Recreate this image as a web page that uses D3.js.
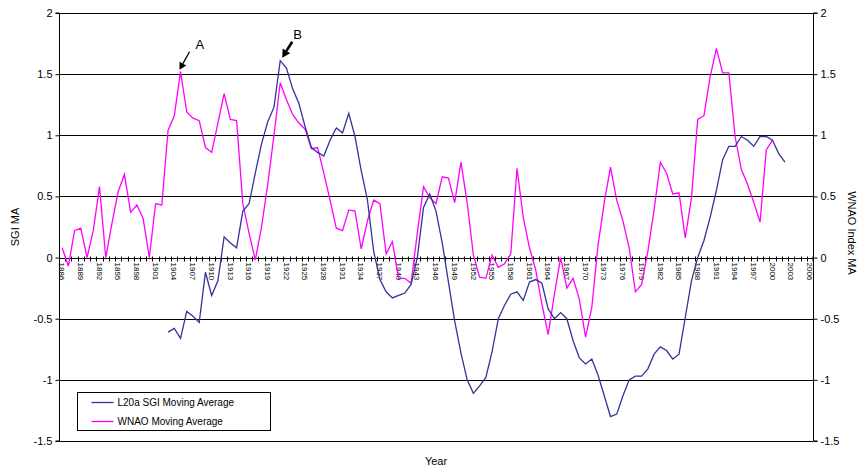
<!DOCTYPE html>
<html>
<head>
<meta charset="utf-8">
<script src="https://cdn.jsdelivr.net/npm/d3@7"></script>
<style>
  body { margin: 0; background: #fff; }
  svg { display: block; font-family: "Liberation Sans", Arial, sans-serif; }
</style>
</head>
<body>
<div id="chart"></div>
<script>
// years on the category axis
const firstYear = 1886;
const lastYear = 2006;
const years = d3.range(firstYear, lastYear + 1);

// WNAO index moving average, 1886..2000
const wnaoStart = 1886;
const wnaoValues = [
  0.08, -0.07, 0.22, 0.24, 0.0, 0.22, 0.58, 0.0, 0.28, 0.54,
  0.68, 0.37, 0.43, 0.32, 0.0, 0.44, 0.43, 1.04, 1.16, 1.52,
  1.19, 1.14, 1.12, 0.90, 0.86, 1.1, 1.34, 1.13, 1.12, 0.44,
  0.2, -0.02, 0.25, 0.6, 1.0, 1.43, 1.29, 1.17, 1.1, 1.05,
  0.89, 0.90, 0.69, 0.47, 0.24, 0.22, 0.39, 0.38, 0.07, 0.3,
  0.47, 0.44, 0.03, 0.13, -0.17, -0.17, -0.21, 0.2, 0.58, 0.49,
  0.44, 0.66, 0.65, 0.45, 0.78, 0.45, 0.02, -0.16, -0.17, 0.02,
  -0.08, -0.05, 0.03, 0.73, 0.33, 0.08, -0.1, -0.38, -0.63, -0.3,
  0.0, -0.25, -0.17, -0.34, -0.65, -0.41, 0.1, 0.45, 0.74, 0.47,
  0.30, 0.08, -0.28, -0.22, 0.05, 0.39, 0.78, 0.69, 0.52, 0.53,
  0.16, 0.49, 1.13, 1.16, 1.48, 1.71, 1.51, 1.51, 0.99, 0.72,
  0.6, 0.45, 0.29, 0.88, 0.96
];

// L20a SGI moving average, 1903..2002
const sgiStart = 1903;
const sgiValues = [
  -0.61, -0.58, -0.66, -0.44, -0.48, -0.53, -0.12, -0.31, -0.19, 0.17,
  0.12, 0.08, 0.38, 0.44, 0.69, 0.93, 1.11, 1.23, 1.61, 1.55,
  1.38, 1.26, 1.07, 0.9, 0.86, 0.83, 0.96, 1.06, 1.02, 1.18,
  0.99, 0.71, 0.47, 0.05, -0.18, -0.28, -0.33, -0.31, -0.29, -0.22,
  0.0, 0.41, 0.52, 0.38, 0.12, -0.2, -0.52, -0.78, -1.0, -1.11,
  -1.05, -0.98, -0.77, -0.5, -0.39, -0.3, -0.28, -0.35, -0.2, -0.18,
  -0.21, -0.42, -0.5, -0.45, -0.5, -0.68, -0.82, -0.87, -0.83, -0.96,
  -1.13, -1.30, -1.28, -1.13, -1.0, -0.97, -0.97, -0.91, -0.79, -0.73,
  -0.76, -0.83, -0.79, -0.49, -0.19, 0.0, 0.14, 0.33, 0.55, 0.8,
  0.91, 0.91, 0.99, 0.96, 0.91, 0.99, 0.99, 0.96, 0.85, 0.78
];

const yTicks = [-1.5, -1, -0.5, 0, 0.5, 1, 1.5, 2];
const legendLabels = ['L20a SGI Moving Average', 'WNAO Moving Average'];
const sgiColor = '#333399';
const wnaoColor = '#ff00ff';

const width = 867, height = 468;
const margin = { top: 13, right: 54, bottom: 27, left: 59 };

const svg = d3.select('#chart').append('svg')
  .attr('width', width)
  .attr('height', height);

const x = d3.scaleBand()
  .domain(years)
  .range([margin.left, width - margin.right])
  .padding(0);

const y = d3.scaleLinear()
  .domain([-1.5, 2])
  .range([height - margin.bottom, margin.top]);

const cx = yr => x(yr) + x.bandwidth() / 2;

// horizontal grid lines
svg.append('g')
  .selectAll('line')
  .data(yTicks.filter(d => d !== 0))
  .enter().append('line')
  .attr('x1', margin.left)
  .attr('x2', width - margin.right)
  .attr('y1', d => Math.round(y(d)) + 0.5)
  .attr('y2', d => Math.round(y(d)) + 0.5)
  .attr('stroke', '#000')
  .attr('stroke-width', 1.2);

// left and right value axes
const fmt = d => String(d);
const leftAxis = d3.axisLeft(y).tickValues(yTicks).tickSize(4).tickFormat(fmt);
const rightAxis = d3.axisRight(y).tickValues(yTicks).tickSize(4).tickFormat(fmt);

svg.append('g')
  .attr('transform', `translate(${margin.left + 0.5},0)`)
  .call(leftAxis)
  .call(g => g.select('.domain').attr('d', `M-4,${y(2)}H0V${y(-1.5)}H-4`))
  .call(g => g.selectAll('text').attr('font-size', 11).attr('fill', '#000').attr('x', -7).attr('font-family', null));

svg.append('g')
  .attr('transform', `translate(${width - margin.right + 0.5},0)`)
  .call(rightAxis)
  .call(g => g.select('.domain').attr('d', `M4,${y(2)}H0V${y(-1.5)}H4`))
  .call(g => g.selectAll('text').attr('font-size', 11).attr('fill', '#000').attr('x', 7).attr('font-family', null));

// category (year) axis along zero
const y0 = Math.round(y(0)) + 0.5;
const xAxisG = svg.append('g');
xAxisG.append('line')
  .attr('x1', margin.left).attr('x2', width - margin.right)
  .attr('y1', y0).attr('y2', y0)
  .attr('stroke', '#000').attr('stroke-width', 1.2);

xAxisG.selectAll('.tick')
  .data(years.concat([lastYear + 1]))
  .enter().append('line')
  .attr('x1', d => d > lastYear ? width - margin.right : Math.round(x(d)) + 0.5)
  .attr('x2', d => d > lastYear ? width - margin.right : Math.round(x(d)) + 0.5)
  .attr('y1', y0 - 2)
  .attr('y2', y0 + 3)
  .attr('stroke', '#000');

xAxisG.selectAll('text')
  .data(years.filter(d => (d - firstYear) % 3 === 0))
  .enter().append('text')
  .attr('transform', d => `translate(${cx(d)},${y0 + 4}) rotate(90)`)
  .attr('dy', '0.35em')
  .attr('text-anchor', 'start')
  .attr('font-size', 8)
  .text(d => d);

// series lines
const line = d3.line()
  .x(d => cx(d.year))
  .y(d => y(d.value));

const sgiData = sgiValues.map((v, i) => ({ year: sgiStart + i, value: v }));
const wnaoData = wnaoValues.map((v, i) => ({ year: wnaoStart + i, value: v }));

svg.append('path')
  .datum(wnaoData)
  .attr('d', line)
  .attr('fill', 'none')
  .attr('stroke', wnaoColor)
  .attr('stroke-width', 1.3);

svg.append('path')
  .datum(sgiData)
  .attr('d', line)
  .attr('fill', 'none')
  .attr('stroke', sgiColor)
  .attr('stroke-width', 1.3);

// axis titles
svg.append('text')
  .attr('transform', `translate(19,${(y(2) + y(-1.5)) / 2}) rotate(-90)`)
  .attr('text-anchor', 'middle')
  .attr('font-size', 11)
  .text('SGI MA');

svg.append('text')
  .attr('transform', `translate(848,${(y(2) + y(-1.5)) / 2 + 6}) rotate(90)`)
  .attr('text-anchor', 'middle')
  .attr('font-size', 11)
  .text('WNAO Index MA');

svg.append('text')
  .attr('x', (margin.left + width - margin.right) / 2)
  .attr('y', 465)
  .attr('text-anchor', 'middle')
  .attr('font-size', 11)
  .text('Year');

// legend
const legend = svg.append('g').attr('transform', 'translate(77.5,392.5)');
legend.append('rect')
  .attr('width', 193).attr('height', 38)
  .attr('fill', '#fff').attr('stroke', '#000');
legend.selectAll('g.item')
  .data(legendLabels)
  .enter().append('g')
  .attr('class', 'item')
  .attr('transform', (d, i) => `translate(0,${10 + i * 19})`)
  .each(function (d, i) {
    const g = d3.select(this);
    g.append('line')
      .attr('x1', 14).attr('x2', 36)
      .attr('stroke', i === 0 ? sgiColor : wnaoColor)
      .attr('stroke-width', 1.3);
    g.append('text')
      .attr('x', 40).attr('dy', '0.35em')
      .attr('font-size', 10)
      .text(d);
  });

// annotations A and B
const peakA = wnaoData.find(d => d.year === 1905);
const peakB = sgiData.find(d => d.year === 1921);

function arrow(tipX, tipY, dx, dy, w, head) {
  const len = Math.hypot(dx, dy);
  const ux = dx / len, uy = dy / len;
  const bx = tipX - ux * head, by = tipY - uy * head;
  svg.append('line')
    .attr('x1', tipX - dx).attr('y1', tipY - dy)
    .attr('x2', bx).attr('y2', by)
    .attr('stroke', '#000').attr('stroke-width', w);
  svg.append('path')
    .attr('d', `M${tipX},${tipY}L${bx - uy * head * 0.55},${by + ux * head * 0.55}L${bx + uy * head * 0.55},${by - ux * head * 0.55}Z`)
    .attr('fill', '#000');
}

arrow(cx(peakA.year) - 1, y(peakA.value) - 2, -10, 18, 1.3, 7);
svg.append('text')
  .attr('x', cx(peakA.year) + 15).attr('y', y(peakA.value) - 23)
  .attr('font-size', 13)
  .text('A');

arrow(cx(peakB.year) + 2, y(peakB.value) - 3, -10, 16, 2.6, 8);
svg.append('text')
  .attr('x', cx(peakB.year) + 13).attr('y', y(peakB.value) - 22)
  .attr('font-size', 13)
  .text('B');
</script>
</body>
</html>
